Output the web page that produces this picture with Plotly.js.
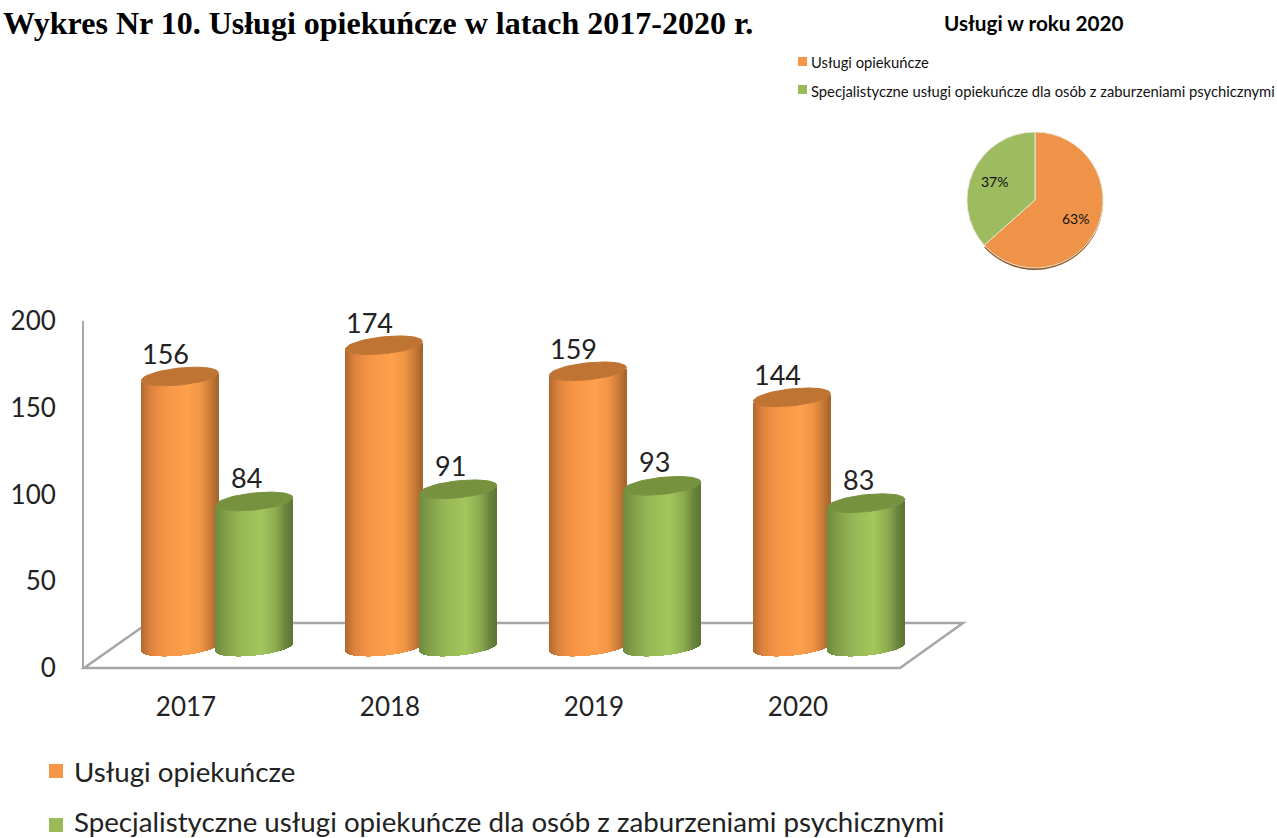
<!DOCTYPE html>
<html><head><meta charset="utf-8">
<script src="https://cdn.plot.ly/plotly-3.0.1.min.js"></script>
<style>html,body{margin:0;padding:0;background:#fff}#c{width:1277px;height:838px}</style>
</head><body><div id="c"></div>
<script>
const years = ['2017','2018','2019','2020'];
const careServices = [156,174,159,144];
const specialistServices = [84,91,93,83];
const seriesNames = ['Usługi opiekuńcze','Specjalistyczne usługi opiekuńcze dla osób z zaburzeniami psychicznymi'];
const pieValues = [144,83];
const yTicks = [0,50,100,150,200];

const W=1277,H=838;
const L=84,R=963,T=321,B=668;
const pxPerGroup=204, pxPerUnit=(B-T)/200;
const xMax=(R-L)/pxPerGroup-0.5;
const px=x=>x/W, py=y=>1-y/H;
const radius=38.5, capB=8.5, tilt=0.1, depthUnits=12;
const FONT='Lato, "Open Sans", sans-serif', GREY='#A6A6A6', INK='#222222';
const ORANGE='#F79646', GREEN='#9BBB59';

const orangeStops=[[0,[176,104,46]],[0.12,[220,130,62]],[0.3,[245,148,70]],[0.6,[255,160,76]],[0.78,[240,148,68]],[0.92,[196,118,52]],[1,[166,100,44]]];
const greenStops=[[0,[110,138,62]],[0.14,[130,160,72]],[0.35,[150,185,86]],[0.6,[163,198,92]],[0.78,[142,174,80]],[0.92,[104,132,60]],[1,[92,118,52]]];
function shade(stops,t){
  for(let i=1;i<stops.length;i++){ if(t<=stops[i][0]){
    const a=stops[i-1],b=stops[i],f=(t-a[0])/(b[0]-a[0]);
    return 'rgb('+a[1].map((c,k)=>Math.round(c+(b[1][k]-c)*f)).join(',')+')';
  }}
  return 'rgb('+stops[stops.length-1][1].join(',')+')';
}
// one cylinder body = thin bars, each as tall as the value, resting on the lower arc of the base
function cylinderSlices(values,shift,stops,name){
  const x=[],y=[],base=[],color=[],width=[];
  const n=Math.round(radius*2), w=1.6/pxPerGroup;
  values.forEach((v,g)=>{
    for(let i=0;i<n;i++){
      const X=-radius+(i+0.5)*(2*radius/n), u=X/radius;
      x.push(g+shift+X/pxPerGroup); y.push(v);
      base.push(depthUnits+(-capB*Math.sqrt(1-u*u)+tilt*X)/pxPerUnit);
      color.push(shade(stops,(i+0.5)/n)); width.push(w);
    }
  });
  return {type:'bar',x,y,base,width,marker:{color,line:{width:0}},name,showlegend:false,hoverinfo:'skip',xaxis:'x',yaxis:'y'};
}
function cylinderCaps(values,shift,color){
  const x=[],y=[];
  values.forEach((v,g)=>{
    for(let k=0;k<=60;k++){
      const t=k/60*2*Math.PI, X=radius*Math.cos(t);
      x.push(g+shift+X/pxPerGroup);
      y.push(depthUnits+v+(capB*Math.sin(t)+tilt*X)/pxPerUnit);
    }
    x.push(null);y.push(null);
  });
  return {type:'scatter',mode:'lines',x,y,fill:'toself',fillcolor:color,line:{width:1,color},showlegend:false,hoverinfo:'skip'};
}

const shiftA=-0.03, shiftB=0.335;
const pieCx=1035, pieCy=200, pieR=68;
const data=[
  cylinderSlices(careServices,shiftA,orangeStops,seriesNames[0]),
  cylinderCaps(careServices,shiftA,'#BF7433'),
  cylinderSlices(specialistServices,shiftB,greenStops,seriesNames[1]),
  cylinderCaps(specialistServices,shiftB,'#76923F'),
  {type:'pie',values:pieValues,labels:seriesNames,sort:false,direction:'clockwise',rotation:0,
   domain:{x:[px(pieCx-pieR),px(pieCx+pieR)],y:[py(pieCy+pieR+2),py(pieCy-pieR+2)]},textinfo:'none',showlegend:false,hoverinfo:'skip',
   marker:{colors:['#8A5A2B','rgba(0,0,0,0)'],line:{width:0}}},
  {type:'pie',values:pieValues,labels:seriesNames,sort:false,direction:'clockwise',rotation:0,
   domain:{x:[px(pieCx-pieR),px(pieCx+pieR)],y:[py(pieCy+pieR),py(pieCy-pieR)]},textinfo:'none',showlegend:false,hoverinfo:'label+percent',
   marker:{colors:['#EE9347','#9DBB5F'],line:{width:1,color:'#E8E4D0'}}}
];
// percent labels sit at a fixed fraction of the radius along each slice's middle angle
const pieTotal=pieValues.reduce((a,b)=>a+b,0);
const pieAnn=(()=>{let acc=0;return pieValues.map((v)=>{
  const frac=v/pieTotal, mid=(acc+frac/2)*2*Math.PI; acc+=frac;
  const r=pieR*0.66;
  return {xref:'paper',yref:'paper',x:px(pieCx+r*Math.sin(mid)),y:py(pieCy-r*Math.cos(mid)),text:Math.round(frac*100)+'%',showarrow:false,
    xanchor:'center',yanchor:'middle',font:{family:FONT,size:14,color:'#111'}};
});})();
const labelAnn=(values,shift,dx,dy)=>values.map((v,g)=>({xref:'x',yref:'y',x:g+shift+dx/pxPerGroup,y:v+depthUnits+dy/pxPerUnit,text:String(v),showarrow:false,
  font:{family:FONT,size:27,color:INK},xanchor:'center',yanchor:'middle'}));
const legendText=(t,x,y,size,color)=>({xref:'paper',yref:'paper',x:px(x),y:py(y),text:t,showarrow:false,xanchor:'left',yanchor:'middle',font:{family:FONT,size,color},borderpad:0});
const swatch=(x0,y0,s,color)=>({type:'rect',xref:'paper',yref:'paper',x0:px(x0),x1:px(x0+s),y0:py(y0),y1:py(y0+s),fillcolor:color,line:{width:0}});
const floor=[[84,668],[900,668],[963,623],[148,623]];
const layout={
  width:W,height:H,margin:{l:0,r:0,t:0,b:0,pad:0,autoexpand:false},paper_bgcolor:'#fff',plot_bgcolor:'rgba(0,0,0,0)',barmode:'overlay',bargap:0,showlegend:false,
  title:{text:'<b>Wykres Nr 10. Usługi opiekuńcze w latach 2017-2020 r.</b>',font:{family:'"Liberation Serif", serif',size:32,color:'#000'},
    x:px(3),xanchor:'left',xref:'paper',y:py(23),yanchor:'middle',yref:'paper'},
  xaxis:{domain:[px(L),px(R)],range:[-0.5,xMax],tickmode:'array',tickvals:years.map((_,i)=>i),ticktext:years,showgrid:false,zeroline:false,showline:false,
    ticks:'outside',ticklen:16,tickcolor:'rgba(0,0,0,0)',tickfont:{family:FONT,size:26,color:INK}},
  yaxis:{domain:[py(B),py(T)],range:[0,200],tickmode:'array',tickvals:yTicks,ticktext:yTicks.map(String),showgrid:false,zeroline:false,showline:true,linecolor:GREY,linewidth:2,
    ticks:'outside',ticklen:21,tickcolor:'rgba(0,0,0,0)',tickfont:{family:FONT,size:26,color:INK}},
  shapes:[{type:'path',xref:'paper',yref:'paper',layer:'below',
    path:'M '+floor.map(p=>px(p[0])+' '+py(p[1])).join(' L ')+' Z',line:{color:GREY,width:2.5},fillcolor:'rgba(0,0,0,0)'},
    swatch(49,764,14,ORANGE),swatch(49,818,14,GREEN),swatch(798,57,9,ORANGE),swatch(798,85,9,GREEN)],
  annotations:[
    ...labelAnn(careServices,shiftA,-14,23),...labelAnn(specialistServices,shiftB,-8,24),...pieAnn,
    {xref:'paper',yref:'paper',x:px(1034),y:py(23),text:'<b>Usługi w roku 2020</b>',showarrow:false,font:{family:FONT,size:20.7,color:'#000'},xanchor:'center',yanchor:'middle'},
    legendText(seriesNames[0],73,771,27.7,INK),legendText(seriesNames[1],73,821,27.7,INK),
    legendText(seriesNames[0],810,62,14.75,'#111'),legendText(seriesNames[1],810,91,14.75,'#111')
  ]
};
Plotly.newPlot('c',data,layout,{displayModeBar:false,responsive:false});
</script></body></html>
